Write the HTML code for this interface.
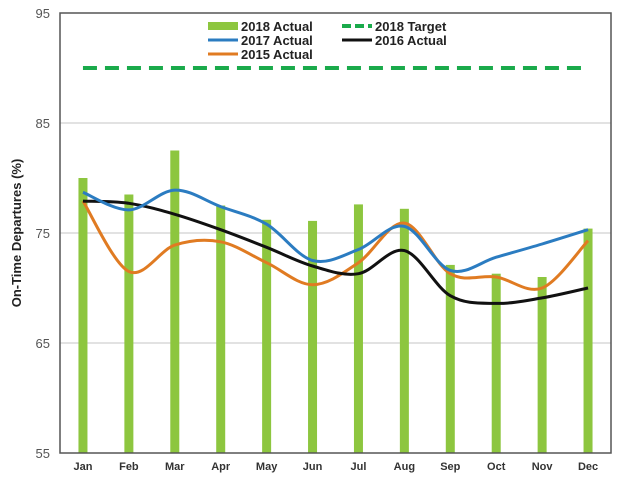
<!DOCTYPE html>
<html><head><meta charset="utf-8"><style>
body{margin:0;background:#fff;}
svg text{font-family:"Liberation Sans",sans-serif;}
</style></head><body>
<svg id="c" width="620" height="477"></svg>
<script>
const months=["Jan","Feb","Mar","Apr","May","Jun","Jul","Aug","Sep","Oct","Nov","Dec"];
const actual2018=[80,78.5,82.5,77.5,76.2,76.1,77.6,77.2,72.1,71.3,71.0,75.4];
const target2018=[90,90,90,90,90,90,90,90,90,90,90,90];
const actual2017=[78.7,77.1,78.9,77.4,75.8,72.5,73.5,75.6,71.6,72.8,74.0,75.3];
const actual2016=[77.9,77.7,76.7,75.3,73.7,72.0,71.3,73.4,69.3,68.6,69.1,70.0];
const actual2015=[77.9,71.5,73.9,74.2,72.3,70.3,72.3,75.9,71.3,71.0,70.0,74.3];
const yTicks=[55,65,75,85,95];
const NS="http://www.w3.org/2000/svg";
const svg=document.getElementById('c');
const L=60,R=611,T=13,B=453;
const x=i=>L+(R-L)/12*(i+0.5);
const y=v=>B-(v-55)/40*(B-T);
function mk(tag,attrs,parent){const e=document.createElementNS(NS,tag);for(const k in attrs)e.setAttribute(k,attrs[k]);(parent||svg).appendChild(e);return e;}
yTicks.forEach(t=>{
  if(t>55&&t<95){const g=mk('line',{x1:L,x2:R,y1:y(t),y2:y(t),stroke:'#d9d9d9','stroke-width':1.5});
  
  }
  const tx=mk('text',{x:50,y:y(t)+5,'text-anchor':'end','font-size':13,fill:'#555'});tx.textContent=t;
  
  
});
actual2018.forEach((v,i)=>{const b=mk('rect',{x:x(i)-4.5,y:y(v),width:9,height:B-y(v),fill:'#8dc63f'});

});
function smooth(vals){let pts=vals.map((v,i)=>[x(i),y(v)]);let d='M'+pts[0][0]+','+pts[0][1];
for(let i=0;i<pts.length-1;i++){const p0=pts[Math.max(0,i-1)],p1=pts[i],p2=pts[i+1],p3=pts[Math.min(pts.length-1,i+2)];
const c1=[p1[0]+(p2[0]-p0[0])/6,p1[1]+(p2[1]-p0[1])/6],c2=[p2[0]-(p3[0]-p1[0])/6,p2[1]-(p3[1]-p1[1])/6];
d+=` C${c1[0]},${c1[1]} ${c2[0]},${c2[1]} ${p2[0]},${p2[1]}`;}return d;}
const tl=mk('path',{d:'M'+x(0)+','+y(target2018[0])+target2018.map((v,i)=>' L'+x(i)+','+y(v)).join(''),stroke:'#1aaa4b','stroke-width':4,'stroke-dasharray':'14,8',fill:'none'});


[[actual2015,'#e07b22','line-2015'],[actual2016,'#111','line-2016'],[actual2017,'#2b7cc1','line-2017']].forEach(s=>{
const p=mk('path',{d:smooth(s[0]),stroke:s[1],'stroke-width':3,fill:'none'});

});
const box=mk('rect',{x:L,y:T,width:R-L,height:B-T,fill:'none',stroke:'#555','stroke-width':1.5});


months.forEach((m,i)=>{const t=mk('text',{x:x(i),y:470,'text-anchor':'middle','font-size':11,'font-weight':'bold',fill:'#333'});t.textContent=m;

});
const yt=mk('text',{x:0,y:0,transform:'translate(21,233) rotate(-90)','text-anchor':'middle','font-size':13,'font-weight':'bold',fill:'#222'});yt.textContent='On-Time Departures (%)';


const leg=[['2018 Actual','#8dc63f',208,26,'bar'],['2018 Target','#1aaa4b',342,26,'dash'],['2017 Actual','#2b7cc1',208,40,'line'],['2016 Actual','#111',342,40,'line'],['2015 Actual','#e07b22',208,54,'line']];
leg.forEach(l=>{
 let s;
 if(l[4]==='bar')s=mk('rect',{x:l[2],y:l[3]-4,width:30,height:8,fill:l[1]});
 else s=mk('line',{x1:l[2],x2:l[2]+30,y1:l[3],y2:l[3],stroke:l[1],'stroke-width':l[4]==='dash'?4:3,'stroke-dasharray':l[4]==='dash'?'9,4':'none'});
 
 
 const t=mk('text',{x:l[2]+33,y:l[3]+5,'font-size':13,'font-weight':'bold',fill:'#222'});t.textContent=l[0];
 
 
});
</script>
</body></html>
